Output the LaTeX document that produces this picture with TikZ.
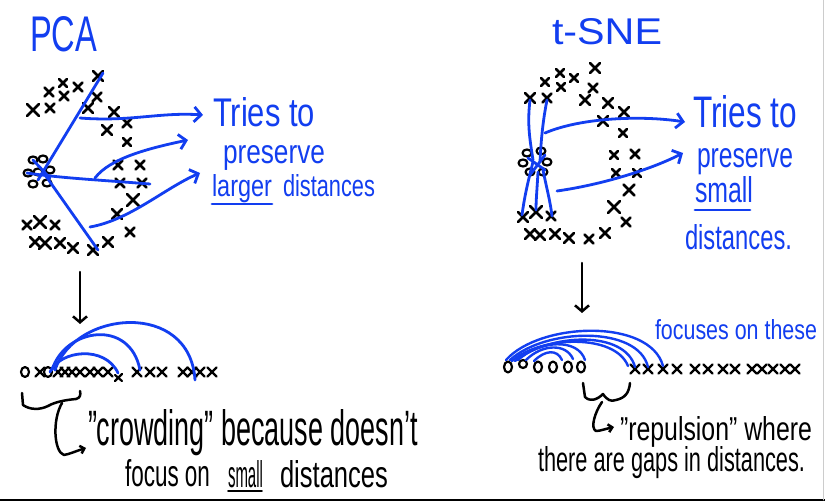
\documentclass[tikz,border=0pt]{standalone}
\usepackage{fontspec}
\setmainfont{Liberation Sans}
\usepackage{graphicx}
\usetikzlibrary{arrows.meta}
\definecolor{pen}{RGB}{18,62,240}
\newcommand\hw[3]{\resizebox{#1pt}{#2pt}{#3}}
\begin{document}
\begin{tikzpicture}[x=1pt,y=-1pt, line cap=round, line join=round,
  bl/.style={draw=pen, line width=2.8pt},
  bk/.style={draw=black, line width=2.5pt},
  barb/.style={-{Straight Barb[length=7pt,width=15pt]}},
  sbarb/.style={-{Straight Barb[length=4pt,width=8pt]}},
  dbarb/.style={-{Straight Barb[length=6pt,width=14pt]}},
  txt/.style={anchor=base west, inner sep=0pt, outer sep=0pt},
  btxt/.style={txt, text=pen},
  oo/.style={draw=black, line width=2.2pt}]
\useasboundingbox (0,0) rectangle (825,502);
\fill[white] (0,0) rectangle (825,502);
\draw[black, line width=1.5pt] (0,500) -- (825,500);
\draw[gray!40, line width=0.8pt] (823,0) -- (823,500);

% ---------- titles and labels ----------
\node[btxt] (pca) at (30,52) {\hw{67}{35}{PCA}};
\node[btxt] (tsne) at (552,45) {\hw{110}{26}{t-SNE}};

\node[btxt] (tl1) at (213,127) {\hw{102}{29}{Tries to}};
\node[btxt] (tl2) at (223,164) {\hw{102}{18}{preserve}};
\node[btxt] (tl3) at (212,197) {\hw{60}{22}{larger}};
\node[btxt] (tl4) at (283,197) {\hw{92}{22}{distances}};
\draw[bl] (212,204) -- (272,204);

\node[btxt] (tr1) at (693,128) {\hw{104}{32}{Tries to}};
\node[btxt] (tr2) at (697,168) {\hw{96}{19}{preserve}};
\node[btxt] (tr3) at (695,203) {\hw{58}{26}{small}};
\draw[bl] (695,210) -- (750,210);
\node[btxt] (tr4) at (685,250) {\hw{107}{25}{distances.}};

\node[txt] (cr1) at (88,446) {\hw{330}{36}{"crowding" because doesn't}};
\node[txt] (cr2) at (125,487) {\hw{85}{27}{focus on}};
\node[txt] (cr3) at (228,487) {\hw{35}{27}{small}};
\draw[bk, line width=1.6pt] (228,491) -- (262,491);
\node[txt] (cr4) at (280,487) {\hw{108}{27}{distances}};

\node[btxt] (foc) at (655,340) {\hw{162}{20}{focuses on these}};
\node[txt] (rp1) at (620,440) {\hw{192}{24}{"repulsion" where}};
\node[txt] (rp2) at (538,472) {\hw{267}{25}{there are gaps in distances.}};

% ---------- PCA scatter ----------
\foreach \x/\y/\s in {33/110/6,50/108/4.5,49/92/4.5,63/83/4,64/96/4.5,78/87/4.5,98/76/5,97/97/4.5,88/108/5,
  114/112/5,127/123/4.5,107/130/5,127/142/4,118/165/4.5,140/165/4.5,120/183/4.5,142/183/4.5,133/200/6,
  117/214/5,130/232/4.5,108/242/5,93/250/5,73/248/5,60/243/5,45/243/6,35/242/5,40/222/6,27/225/4.5,55/225/4.5}
  \draw[bk] (\x-\s,\y-\s) -- (\x+\s,\y+\s) (\x-\s,\y+\s) -- (\x+\s,\y-\s);
\foreach \x/\y in {33/160,43/159,28/173,38/172,50/170,33/184,47/183}
  \draw[oo] (\x,\y) ellipse [x radius=4.5pt, y radius=3.5pt];

\draw[bl] (38,180) -- (103,73);
\draw[bl] (43,172) -- (98,250);
\draw[bl] (27,173) .. controls (60,178) and (100,180) .. (150,184);
\draw[bl] (33,160) -- (50,178);
\draw[bl, barb] (80,118) .. controls (130,122) and (160,112) .. (203,115);
\draw[bl, barb] (95,178) .. controls (110,158) and (150,148) .. (188,140);
\draw[bl, barb] (90,227) .. controls (130,220) and (165,188) .. (200,173);

% ---------- t-SNE scatter ----------
\foreach \x/\y/\s in {530/98/5,547/98/4.5,545/82/4,560/73/4,561/87/4,574/78/4,595/68/5,593/88/4.5,585/100/5,
  608/103/5,624/112/5,603/121/5,623/133/4,614/155/4,635/154/4.5,616/173/4,637/173/4,629/190/5.5,614/207/6,
  626/222/4.5,605/233/5,589/239/4.5,569/238/5,555/234/5,540/235/5,530/234/5,523/217/5,536/212/6,551/216/4.5}
  \draw[bk] (\x-\s,\y-\s) -- (\x+\s,\y+\s) (\x-\s,\y+\s) -- (\x+\s,\y-\s);
\foreach \x/\y in {527/153,541/151,523/163,547/162,530/172,543/172}
  \draw[oo] (\x,\y) ellipse [x radius=4.5pt, y radius=3.5pt];

\draw[bl] (530,100) .. controls (527,125) and (530,140) .. (533,160);
\draw[bl] (547,100) .. controls (543,120) and (541,140) .. (540,162);
\draw[bl] (533,162) .. controls (527,185) and (524,200) .. (522,215);
\draw[bl] (538,172) .. controls (537,190) and (536,200) .. (536,210);
\draw[bl] (543,170) .. controls (547,190) and (550,200) .. (552,216);
\draw[bl] (528,158) -- (545,170);
\draw[bl] (545,155) -- (530,175);
\draw[bl, barb] (545,133) .. controls (580,118) and (640,115) .. (685,122);
\draw[bl, barb] (557,191) .. controls (600,185) and (650,170) .. (683,153);

% ---------- down arrows ----------
\draw[bk, dbarb] (80,272) -- (80,324);
\draw[bk, dbarb] (582,263) -- (582,313);

% ---------- bottom-left row ----------
\foreach \x in {25,48}
  \draw[oo] (\x,372) ellipse [x radius=4pt, y radius=5pt];
\foreach \x/\s in {40/4.5,58/4.5,65/4.5,72/4.5,80/4.5,90/4.5,98/4.5,108/4.5,137/4.5,150/4.5,162/4.5,183/4.5,192/4.5,200/4.5,212/4.5}
  \draw[bk, line width=2.2pt] (\x-\s,372-\s) -- (\x+\s,372+\s) (\x-\s,372+\s) -- (\x+\s,372-\s);
\draw[bk, line width=2.2pt] (115,375) -- (122,381) (115,381) -- (122,374);

\draw[bl] (50,372) .. controls (60,350) and (105,345) .. (118,373);
\draw[bl] (52,370) .. controls (65,328) and (130,318) .. (140,370);
\draw[bl] (55,370) .. controls (75,310) and (190,300) .. (195,380);

% bracket + hook (left)
\draw[bk] (22,393) -- (23,405) .. controls (30,410) and (40,410) .. (48,406)
  .. controls (55,402) and (65,400) .. (76,399) .. controls (80,398) and (81,395) .. (80,391);
\draw[bk, sbarb] (62,403) .. controls (52,420) and (54,452) .. (64,455) .. controls (70,454) and (76,451) .. (86,448);

% ---------- bottom-right row ----------
\foreach \x/\y/\r in {508/367/5.5,523/364/4,538/367/5.5,553/367/5.5,568/367/5.5,581/367/5.5}
  \draw[oo] (\x,\y) ellipse [x radius=4pt, y radius=\r pt];
\foreach \x in {635,648,663,677,695,708,723,735,752,762,773,785,795}
  \draw[bk, line width=2.2pt] (\x-4.5,369-4.5) -- (\x+4.5,369+4.5) (\x-4.5,369+4.5) -- (\x+4.5,369-4.5);

\draw[bl, line width=2.4pt] (506,360) .. controls (540,322) and (650,318) .. (663,366);
\draw[bl, line width=2.4pt] (510,360) .. controls (545,328) and (638,325) .. (648,367);
\draw[bl, line width=2.4pt] (515,361) .. controls (550,333) and (625,330) .. (635,367);
\draw[bl, line width=2.4pt] (512,361) .. controls (540,336) and (615,333) .. (628,366);
\draw[bl, line width=2.4pt] (518,360) .. controls (540,340) and (578,338) .. (585,360);
\draw[bl, line width=2.4pt] (526,360) .. controls (542,344) and (566,343) .. (573,359);
\draw[bl, line width=2.4pt] (534,361) .. controls (545,350) and (557,349) .. (562,360);

% bracket + hook (right)
\draw[bk] (583,383) -- (585,397) .. controls (590,402) and (597,400) .. (603,394)
  .. controls (607,400) and (611,402) .. (616,400) .. controls (625,398) and (629,393) .. (630,383);
\draw[bk, sbarb] (602,402) .. controls (595,412) and (590,428) .. (596,431) .. controls (600,431) and (605,429) .. (614,427);
\end{tikzpicture}
\end{document}
